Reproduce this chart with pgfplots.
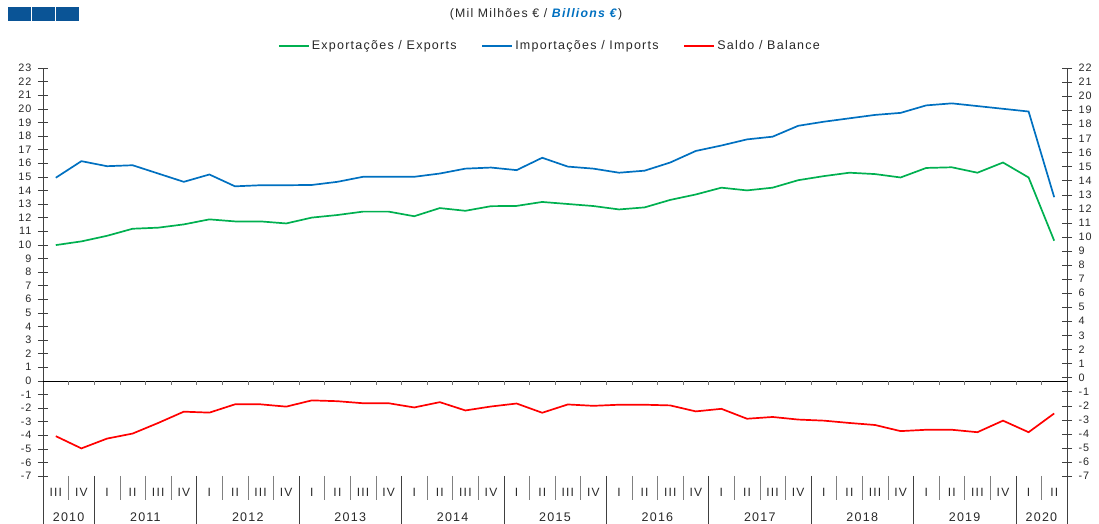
\documentclass[border=0pt]{standalone}
\usepackage{pgfplots}
\pgfplotsset{compat=1.18}
\usepackage{fontspec}
\setmainfont{Liberation Sans}[LetterSpace=10]
\definecolor{expc}{RGB}{0,176,80}
\definecolor{impc}{RGB}{0,112,192}
\definecolor{balc}{RGB}{255,0,0}
\definecolor{logoc}{RGB}{10,84,150}
\definecolor{txt}{RGB}{40,40,40}
\begin{document}
\begin{tikzpicture}
\useasboundingbox (0pt,0pt) rectangle (1099pt,524pt);
\fill[logoc] (8pt,502.5pt) rectangle (30.5pt,516.5pt);
\fill[logoc] (32pt,502.5pt) rectangle (54.5pt,516.5pt);
\fill[logoc] (56pt,502.5pt) rectangle (78.5pt,516.5pt);
\node[font=\fontsize{12.3}{14}\selectfont, text=txt] at (536pt,510pt) {(Mil Milhões € / \textcolor{impc}{\textbf{\textit{Billions €}}})};
\begin{axis}[
  at={(43pt,48pt)}, anchor=south west,
  scale only axis, width=1024pt, height=408pt,
  xmin=0.5, xmax=40.5, ymin=-7, ymax=23,
  axis y line*=left, axis x line*=bottom,
  x axis line style={draw=none},
  y axis line style={black!75},
  ytick={-7,...,23},
  tick align=center, major tick length=10pt,
  ytick style={black!75},
  yticklabel style={font=\fontsize{10.8}{12}\selectfont, text=txt, xshift=-3pt},
  /pgf/number format/assume math mode=true,
  xtick={1,...,40},
  xticklabels={III,IV,I,II,III,IV,I,II,III,IV,I,II,III,IV,I,II,III,IV,I,II,III,IV,I,II,III,IV,I,II,III,IV,I,II,III,IV,I,II,III,IV,I,II},
  xtick style={draw=none},
  xticklabel style={font=\fontsize{12}{14}\selectfont, text=txt, anchor=center, yshift=-11pt},
  clip=false,
  legend columns=3,
  legend style={draw=none, fill=none, at={(0.5,1)}, anchor=center, yshift=22pt, xshift=-5pt,
    font=\fontsize{12.5}{14}\selectfont, text=txt,
    /tikz/every even column/.append style={column sep=23pt}},
  legend image code/.code={\draw[#1] (0pt,0pt) -- (30pt,0pt);},
]
\draw[black] (axis cs:0.5,0) -- (axis cs:40.5,0);
\pgfplotsinvokeforeach{1.5,2.5,...,39.5}{\draw[black!55] (axis cs:#1,0) -- ([yshift=-4pt]axis cs:#1,0);}
\pgfplotsinvokeforeach{1.5,3.5,4.5,5.5,7.5,8.5,9.5,11.5,12.5,13.5,15.5,16.5,17.5,19.5,20.5,21.5,23.5,24.5,25.5,27.5,28.5,29.5,31.5,32.5,33.5,35.5,36.5,37.5,39.5}{\draw[black!50] (axis cs:#1,-7) -- ([yshift=-24pt]axis cs:#1,-7);}
\pgfplotsinvokeforeach{2.5,6.5,10.5,14.5,18.5,22.5,26.5,30.5,34.5,38.5}{\draw[black!75] (axis cs:#1,-7) -- ([yshift=-48pt]axis cs:#1,-7);}
\draw[black!75] (rel axis cs:0,0) -- ([yshift=-48pt]rel axis cs:0,0);
\draw[black!75] (rel axis cs:1,0) -- ([yshift=-48pt]rel axis cs:1,0);
\addplot[expc, line width=1.7pt] coordinates {
(1,9.98) (2,10.25) (3,10.66) (4,11.18) (5,11.26) (6,11.5) (7,11.87) (8,11.72) (9,11.72) (10,11.57)
(11,12.0) (12,12.19) (13,12.44) (14,12.44) (15,12.1) (16,12.7) (17,12.5) (18,12.84) (19,12.86) (20,13.15)
(21,13.0) (22,12.85) (23,12.6) (24,12.75) (25,13.3) (26,13.7) (27,14.2) (28,14.0) (29,14.2) (30,14.75)
(31,15.05) (32,15.3) (33,15.2) (34,14.95) (35,15.65) (36,15.7) (37,15.3) (38,16.05) (39,14.95) (40,10.3)};
\addlegendentry{Exportações / Exports}
\addplot[impc, line width=1.7pt] coordinates {
(1,14.93) (2,16.15) (3,15.78) (4,15.85) (5,15.24) (6,14.63) (7,15.17) (8,14.3) (9,14.38) (10,14.38)
(11,14.4) (12,14.63) (13,15.0) (14,15.0) (15,15.0) (16,15.24) (17,15.6) (18,15.68) (19,15.49) (20,16.4)
(21,15.75) (22,15.6) (23,15.3) (24,15.45) (25,16.05) (26,16.9) (27,17.3) (28,17.75) (29,17.95) (30,18.75)
(31,19.05) (32,19.3) (33,19.55) (34,19.7) (35,20.25) (36,20.4) (37,20.2) (38,20.0) (39,19.8) (40,13.5)};
\addlegendentry{Importações / Imports}
\addplot[balc, line width=1.7pt] coordinates {
(1,-4.07) (2,-4.97) (3,-4.25) (4,-3.88) (5,-3.1) (6,-2.27) (7,-2.34) (8,-1.73) (9,-1.73) (10,-1.9)
(11,-1.44) (12,-1.5) (13,-1.65) (14,-1.65) (15,-1.96) (16,-1.57) (17,-2.18) (18,-1.89) (19,-1.67) (20,-2.35)
(21,-1.74) (22,-1.84) (23,-1.76) (24,-1.76) (25,-1.81) (26,-2.25) (27,-2.06) (28,-2.79) (29,-2.66) (30,-2.85)
(31,-2.93) (32,-3.1) (33,-3.25) (34,-3.7) (35,-3.6) (36,-3.6) (37,-3.78) (38,-2.93) (39,-3.78) (40,-2.4)};
\addlegendentry{Saldo / Balance}
\end{axis}
\begin{axis}[
  at={(43pt,48pt)}, anchor=south west,
  scale only axis, width=1024pt, height=408pt,
  xmin=0.5, xmax=40.5, ymin=-7, ymax=22,
  axis y line*=right, axis x line*=bottom,
  x axis line style={draw=none},
  y axis line style={black!75},
  ytick={-7,...,22},
  tick align=center, major tick length=10pt,
  ytick style={black!75},
  yticklabel style={font=\fontsize{10.8}{12}\selectfont, text=txt, xshift=3pt},
  /pgf/number format/assume math mode=true,
  xtick={1.5,4.5,8.5,12.5,16.5,20.5,24.5,28.5,32.5,36.5,39.5},
  xticklabels={2010,2011,2012,2013,2014,2015,2016,2017,2018,2019,2020},
  xtick style={draw=none},
  xticklabel style={font=\fontsize{12.5}{14}\selectfont, text=txt, anchor=center, yshift=-36pt},
  clip=false,
]
\end{axis}
\end{tikzpicture}
\end{document}
